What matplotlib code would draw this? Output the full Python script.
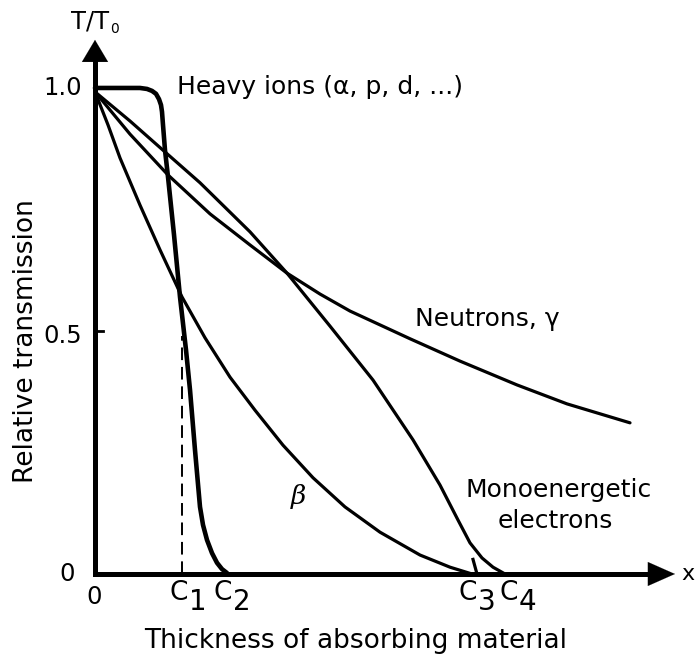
import matplotlib
matplotlib.use("Agg")
import matplotlib.pyplot as plt

# thickness (arbitrary units) and relative transmission T/T0
heavy_x = [0, 0.45, 0.52, 0.57, 0.61, 0.64, 0.66, 0.67, 0.68, 0.70, 0.73, 0.79,
           0.85, 0.91, 0.95, 1.00, 1.05, 1.08, 1.12, 1.17, 1.22, 1.27, 1.32]
heavy_t = [1.0, 1.0, 0.998, 0.994, 0.988, 0.977, 0.965, 0.951, 0.924, 0.872,
           0.817, 0.698, 0.570, 0.461, 0.379, 0.255, 0.138, 0.101, 0.070,
           0.043, 0.023, 0.010, 0.002]

beta_x = [0, 0.13, 0.25, 0.45, 0.65, 0.87, 1.10, 1.35, 1.60, 1.88, 2.18, 2.50,
          2.85, 3.25, 3.55, 3.77]
beta_t = [0.992, 0.924, 0.856, 0.759, 0.667, 0.570, 0.486, 0.405, 0.337,
          0.265, 0.198, 0.138, 0.086, 0.039, 0.014, 0.0]

mono_x = [0, 0.35, 0.68, 1.05, 1.55, 1.92, 2.35, 2.78, 3.18, 3.45, 3.63, 3.75,
          3.87, 3.98, 4.10]
mono_t = [0.992, 0.932, 0.872, 0.805, 0.704, 0.619, 0.510, 0.399, 0.276,
          0.183, 0.111, 0.064, 0.033, 0.014, 0.0]

neut_x = [0, 0.35, 0.73, 1.15, 1.55, 1.92, 2.25, 2.55, 3.15, 3.65, 4.22, 4.72, 5.35]
neut_t = [0.992, 0.905, 0.821, 0.741, 0.677, 0.619, 0.576, 0.541, 0.484,
          0.438, 0.389, 0.350, 0.311]

ranges = [0.87, 1.32, 3.79, 4.10]   # C1..C4
range_names = ['1', '2', '3', '4']
range_label_x = [0.93, 1.37, 3.82, 4.23]   # where each "C" label ends

fig = plt.figure(figsize=(6.96, 6.55), dpi=100)
ax = fig.add_axes([0, 0, 1, 1])
ax.set_xlim(-0.95, 6.01)
ax.set_ylim(-0.1667, 1.181)
ax.axis('off')

k = 'black'
fs_axis = 19
fs_tick = 17.5
fs_note = 18

# axes with arrow heads
ax.plot([0, 0], [0, 1.06], color=k, lw=3.6, solid_capstyle='projecting')
ax.plot([0, 5.55], [0, 0], color=k, lw=3.6, solid_capstyle='projecting')
ax.annotate('', xy=(0, 1.099), xytext=(0, 1.05),
            arrowprops=dict(arrowstyle='-|>,head_length=1.58,head_width=0.94',
                            color=k, lw=0.1, shrinkA=0, shrinkB=0,
                            mutation_scale=10))
ax.annotate('', xy=(5.80, 0), xytext=(5.50, 0),
            arrowprops=dict(arrowstyle='-|>,head_length=1.94,head_width=0.86',
                            color=k, lw=0.1, shrinkA=0, shrinkB=0,
                            mutation_scale=10))
ax.plot([0, 0.08], [0.5, 0.5], color=k, lw=2)

# curves
ax.plot(heavy_x, heavy_t, color=k, lw=3.3, solid_joinstyle='round',
        solid_capstyle='round')
for xs, ts in [(beta_x, beta_t), (mono_x, mono_t), (neut_x, neut_t)]:
    ax.plot(xs, ts, color=k, lw=2.3, solid_joinstyle='round',
            solid_capstyle='round')

# range marks
ax.plot([ranges[0], ranges[0]], [0, 0.49], color=k, lw=1.4, dashes=(6.5, 3.5))
ax.plot([ranges[2] - 0.01, ranges[2] + 0.03], [0.03, 0.0], color=k, lw=2.3)

# tick labels
ax.text(-0.13, 1.0, '1.0', fontsize=fs_tick, ha='right', va='center')
ax.text(-0.13, 0.49, '0.5', fontsize=fs_tick, ha='right', va='center')
ax.text(-0.20, 0.0, '0', fontsize=fs_tick, ha='right', va='center')
ax.text(-0.01, -0.048, '0', fontsize=fs_tick, ha='center', va='center')
for xl, nm in zip(range_label_x, range_names):
    ax.text(xl, -0.0535, 'C', fontsize=19, ha='right', va='baseline')
    ax.text(xl + 0.01, -0.074, nm, fontsize=20, ha='left', va='baseline')
ax.text(5.86, 0.0, 'x', fontsize=16, ha='left', va='center')

# axis titles
ax.text(-0.05, 1.136, 'T/T', fontsize=17.5, ha='center', va='center')
ax.text(0.20, 1.122, '0', fontsize=10, ha='center', va='center')
ax.text(-0.69, 0.48, 'Relative transmission', fontsize=fs_axis, rotation=90,
        ha='center', va='center')
ax.text(2.61, -0.152, 'Thickness of absorbing material', fontsize=fs_axis,
        ha='center', va='baseline')

# curve labels
ax.text(0.82, 1.002, 'Heavy ions (\u03b1, p, d, ...)', fontsize=fs_note,
        ha='left', va='center')
ax.text(3.20, 0.525, 'Neutrons, \u03b3', fontsize=fs_note, ha='left', va='center')
ax.text(3.70, (574 - 497) / 486, 'Monoenergetic', fontsize=fs_note, ha='left',
        va='baseline')
ax.text(4.03, (574 - 528) / 486, 'electrons', fontsize=fs_note, ha='left',
        va='baseline')
ax.text(2.03, 0.16, '\u03b2', fontsize=19, family='DejaVu Serif',
        style='italic', ha='center', va='center')

fig.savefig('out.png', dpi=100)
